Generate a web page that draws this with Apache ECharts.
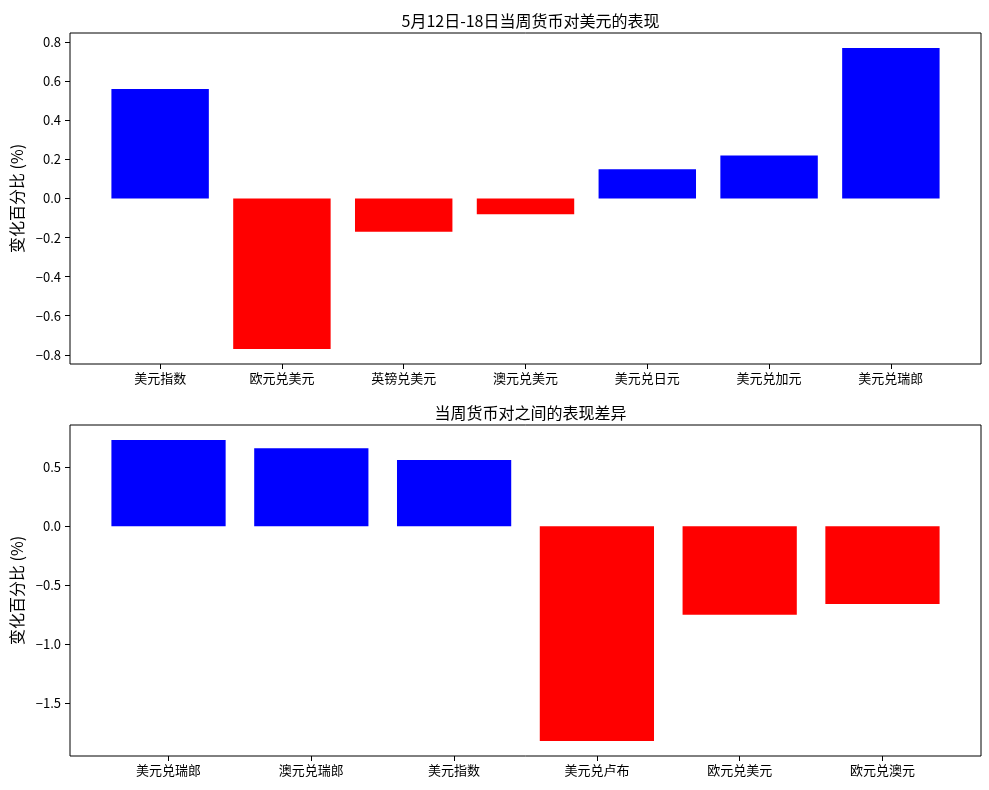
<!DOCTYPE html>
<html>
<head>
<meta charset="utf-8">
<script src="https://cdn.jsdelivr.net/npm/echarts@6/dist/echarts.min.js"></script>
<style>html,body{margin:0;padding:0;background:#fff}#c{width:989px;height:790px}</style>
</head>
<body>
<div id="c"></div>
<script>
// ---- data ----
const title1 = '5月12日-18日当周货币对美元的表现';
const cats1 = ['美元指数', '欧元兑美元', '英镑兑美元', '澳元兑美元', '美元兑日元', '美元兑加元', '美元兑瑞郎'];
const vals1 = [0.56, -0.77, -0.17, -0.08, 0.15, 0.22, 0.77];
const ticks1 = [-0.8, -0.6, -0.4, -0.2, 0.0, 0.2, 0.4, 0.6, 0.8];

const title2 = '当周货币对之间的表现差异';
const cats2 = ['美元兑瑞郎', '澳元兑瑞郎', '美元指数', '美元兑卢布', '欧元兑美元', '欧元兑澳元'];
const vals2 = [0.73, 0.66, 0.56, -1.82, -0.75, -0.66];
const ticks2 = [-1.5, -1.0, -0.5, 0.0, 0.5];

const yName = '变化百分比 (%)';
const POS = '#0000ff', NEG = '#ff0000';

// ---- layout ----
const FONT = '"Noto Sans CJK SC", "DejaVu Sans", sans-serif';
const frameL = 70, frameW = 911, frameH = 331;
const top1 = 33, top2 = 425;

function yRange(vals) {
  const mn = Math.min(0, ...vals), mx = Math.max(0, ...vals);
  const m = (mx - mn) * 0.05;
  return [mn - m, mx + m];
}
function inset(n) {
  const unit = frameW / ((n - 0.2) * 1.1);
  return (-0.1 + 0.05 * (n - 0.2)) * unit;
}

function panel(idx, top, cats, vals, ticks, dec) {
  const [mn, mx] = yRange(vals);
  const ins = inset(cats.length);
  const gFrame = { left: frameL, top: top, width: frameW, height: frameH, show: true, borderColor: '#000', borderWidth: 1, backgroundColor: 'transparent', containLabel: false, outerBoundsMode: 'none' };
  const gData = { left: frameL + ins, top: top, width: frameW - 2 * ins, height: frameH, containLabel: false, outerBoundsMode: 'none' };
  const xF = { gridIndex: idx * 2, type: 'value', show: false, min: 0, max: 1 };
  const xD = {
    gridIndex: idx * 2 + 1, type: 'category', data: cats, boundaryGap: true, position: 'bottom',
    axisLine: { show: false, onZero: false },
    axisTick: { show: true, alignWithLabel: true, length: 5, lineStyle: { color: '#000' } },
    axisLabel: { color: '#000', fontSize: 13, fontFamily: FONT, margin: 8, interval: 0 },
    splitLine: { show: false }
  };
  const yF = {
    gridIndex: idx * 2, type: 'value', min: mn, max: mx,
    name: yName, nameLocation: 'middle', nameGap: 45,
    nameTextStyle: { fontSize: 16, fontFamily: FONT, color: '#000' },
    axisLine: { show: false },
    axisTick: { show: true, length: 5, lineStyle: { color: '#000' }, customValues: ticks },
    axisLabel: { color: '#000', fontSize: 13, fontFamily: FONT, margin: 9, customValues: ticks,
      formatter: v => (Math.abs(v) < 1e-9 ? 0 : v).toFixed(dec).replace('-', '−') },
    splitLine: { show: false }
  };
  const yD = { gridIndex: idx * 2 + 1, type: 'value', min: mn, max: mx, show: false, splitLine: { show: false } };
  const series = {
    type: 'bar', xAxisIndex: idx * 2 + 1, yAxisIndex: idx * 2 + 1,
    barCategoryGap: '20%',
    data: vals.map(v => ({ value: v, itemStyle: { color: v >= 0 ? POS : NEG } })),
    silent: true, animation: false
  };
  return { grids: [gFrame, gData], xs: [xF, xD], ys: [yF, yD], series };
}

const p1 = panel(0, top1, cats1, vals1, ticks1, 1);
const p2 = panel(1, top2, cats2, vals2, ticks2, 1);

const chart = echarts.init(document.getElementById('c'), null, { renderer: 'canvas' });
chart.setOption({
  animation: false,
  backgroundColor: '#fff',
  title: [
    { text: title1, left: frameL + frameW / 2, top: 8, textAlign: 'center',
      textStyle: { fontSize: 16, fontWeight: 'normal', color: '#000', fontFamily: FONT } },
    { text: title2, left: frameL + frameW / 2, top: 400, textAlign: 'center',
      textStyle: { fontSize: 16, fontWeight: 'normal', color: '#000', fontFamily: FONT } }
  ],
  grid: [...p1.grids, ...p2.grids],
  xAxis: [...p1.xs, ...p2.xs],
  yAxis: [...p1.ys, ...p2.ys],
  series: [p1.series, p2.series]
});
</script>
</body>
</html>
